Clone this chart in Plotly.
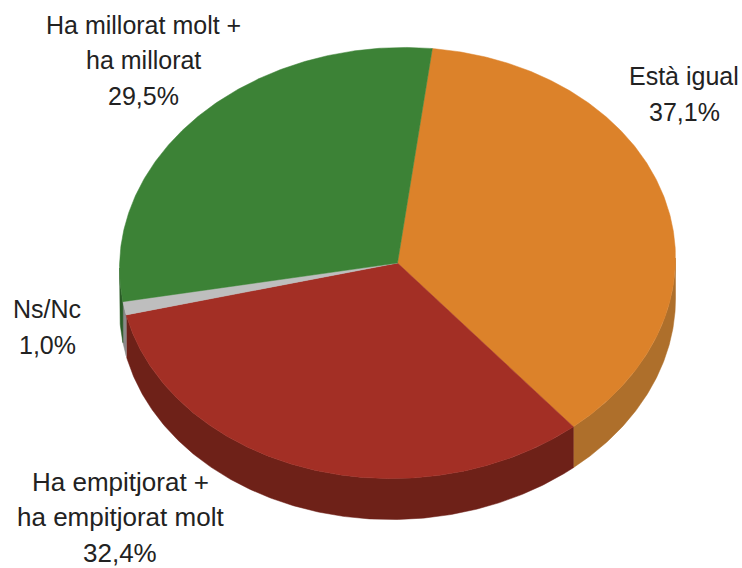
import numpy as np
import plotly.graph_objects as go

categories = ["Està igual", "Ha empitjorat +<br>ha empitjorat molt", "Ns/Nc", "Ha millorat molt +<br>ha millorat"]
values = [37.1, 32.4, 1.0, 29.5]
value_labels = ["37,1%", "32,4%", "1,0%", "29,5%"]
top_colors = ["#DC822A", "#A32F25", "#BEBEBE", "#3C8236"]
side_colors = ["#AE6F2B", "#6E2118", "#8A8A8A", "#2A5C27"]

CX, CY, A, B, DEPTH, TILT = 397.5, 263.0, 278.0, 215.5, 41.0, 5.0
START = 7.2
LINE_STEP = 35.5
label_pos = [(684, 94), (120, 517), (47, 327), (143, 60)]
label_size = [25, 26, 25, 25]

def edge(t0, t1, dy=0.0):
    t = np.radians(np.linspace(t0, t1, max(2, int(abs(t1 - t0) * 2) + 1)))
    return CX + A * np.sin(t), CY + dy - B * np.cos(t) - TILT * np.sin(t)

fig = go.Figure()
angles = START + np.concatenate([[0], np.cumsum(values)]) * 3.6

# visible side wall: the front half of the ellipse (90 to 270 degrees)
for i in range(len(values)):
    lo, hi = max(angles[i], 90), min(angles[i + 1], 270)
    if hi > lo:
        x1, y1 = edge(lo, hi)
        x2, y2 = edge(hi, lo, DEPTH)
        fig.add_trace(go.Scatter(x=np.r_[x1, x2, x1[0]], y=np.r_[y1, y2, y1[0]], mode="lines",
                                 fill="toself", fillcolor=side_colors[i],
                                 line=dict(width=0.5, color=side_colors[i]), hoverinfo="skip"))

# top face slices
for i, c in enumerate(categories):
    x, y = edge(angles[i], angles[i + 1])
    fig.add_trace(go.Scatter(x=np.r_[CX, x, CX], y=np.r_[CY, y, CY], mode="lines",
                             fill="toself", fillcolor=top_colors[i],
                             line=dict(width=0.5, color=top_colors[i]), name=c.replace("<br>", " "),
                             hovertemplate=c + "<br>" + value_labels[i] + "<extra></extra>"))

for c, v, (lx, ly), fs in zip(categories, value_labels, label_pos, label_size):
    lines = c.split("<br>") + [v]
    for k, line in enumerate(lines):
        fig.add_annotation(x=lx, y=ly + (k - (len(lines) - 1) / 2) * LINE_STEP, text=line,
                           showarrow=False, xanchor="center", yanchor="middle",
                           font=dict(family="Liberation Sans, Arial", size=fs, color="#222222"))

fig.update_layout(width=742, height=568, margin=dict(l=0, r=0, t=0, b=0), showlegend=False,
                  paper_bgcolor="white", plot_bgcolor="white",
                  xaxis=dict(range=[0, 742], visible=False, fixedrange=True),
                  yaxis=dict(range=[568, 0], visible=False, fixedrange=True))
fig.write_html("out.html", config={"displayModeBar": False},
               post_script="document.body.style.margin='0';document.body.style.overflow='hidden';")
